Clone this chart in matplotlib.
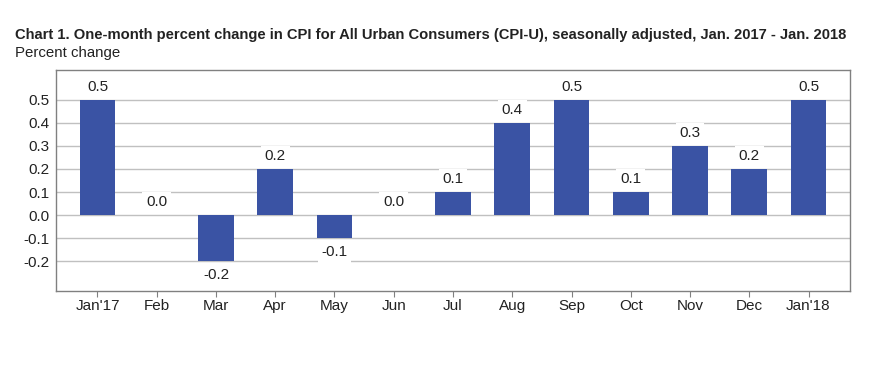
import matplotlib
matplotlib.use("Agg")
import matplotlib.pyplot as plt

months = ["Jan'17", "Feb", "Mar", "Apr", "May", "Jun", "Jul", "Aug", "Sep", "Oct", "Nov", "Dec", "Jan'18"]
values = [0.5, 0.0, -0.2, 0.2, -0.1, 0.0, 0.1, 0.4, 0.5, 0.1, 0.3, 0.2, 0.5]
yticks = [-0.2, -0.1, 0.0, 0.1, 0.2, 0.3, 0.4, 0.5]

plt.rcParams['font.family'] = ['Liberation Sans', 'DejaVu Sans']
txt = '#222222'
bar_color = '#3A53A4'

fig = plt.figure(figsize=(8.8, 3.69), dpi=100)
ax = fig.add_axes([56/880, 1-291/369, (850-56)/880, (291-70)/369])

x = list(range(len(months)))
ax.bar(x, values, width=0.6, color=bar_color, zorder=3)
for xi, v in zip(x, values):
    if v < 0:
        ax.annotate(f"{v:.1f}", (xi, v), xytext=(0, -5), textcoords='offset points',
                    ha='center', va='top', fontsize=11, color=txt, zorder=4,
                    bbox=dict(boxstyle='square,pad=0.25', fc='white', ec='none'))
    else:
        ax.annotate(f"{v:.1f}", (xi, v), xytext=(0, 4), textcoords='offset points',
                    ha='center', va='bottom', fontsize=11, color=txt, zorder=4,
                    bbox=dict(boxstyle='square,pad=0.25', fc='white', ec='none'))

ax.set_xlim(-0.7, 12.7)
ax.set_ylim(-0.33, 0.63)
ax.set_yticks(yticks)
ax.set_yticklabels([f"{t:.1f}" for t in yticks])
ax.set_xticks(x)
ax.set_xticklabels(months)
ax.tick_params(axis='y', length=0, labelsize=11, labelcolor=txt, pad=5)
ax.tick_params(axis='x', length=4, color='#808080', labelsize=11, labelcolor=txt, pad=2)
ax.grid(axis='y', color='#C0C0C0', linewidth=1, zorder=1)
ax.set_axisbelow(True)
for s in ax.spines.values():
    s.set_color('#808080')
    s.set_linewidth(1)

fig.text(15/880, 1-35/369, "Chart 1. One-month percent change in CPI for All Urban Consumers (CPI-U), seasonally adjusted, Jan. 2017 - Jan. 2018",
         fontsize=10.6, fontweight='bold', color=txt, va='center', ha='left')
fig.text(15/880, 1-53/369, "Percent change", fontsize=10.8, color=txt, va='center', ha='left')

fig.savefig("out.png", dpi=100, facecolor='white')
